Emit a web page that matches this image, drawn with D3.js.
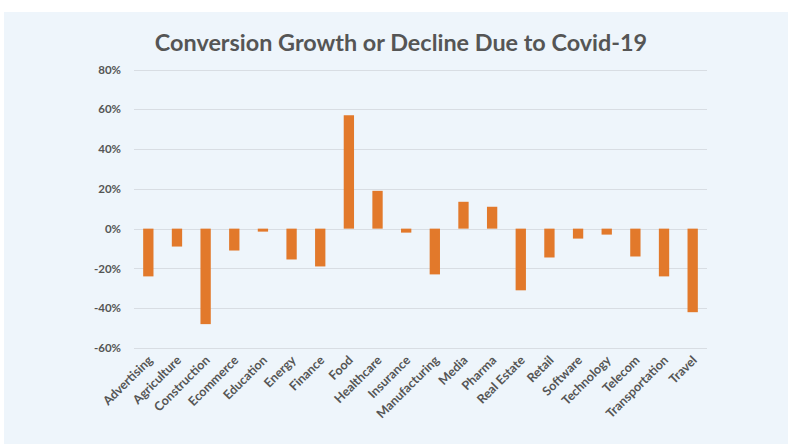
<!DOCTYPE html>
<html>
<head>
<meta charset="utf-8">
<script src="https://cdn.jsdelivr.net/npm/d3@7"></script>
<style>
  html, body { margin: 0; padding: 0; background: #ffffff; }
  svg { display: block; }
  text { font-family: Lato, "Open Sans", sans-serif; }
</style>
</head>
<body>
<div id="chart"></div>
<script>
// industries along the x axis
const industries = [
    'Advertising', 'Agriculture', 'Construction', 'Ecommerce', 'Education',
    'Energy', 'Finance', 'Food', 'Healthcare', 'Insurance',
    'Manufacturing', 'Media', 'Pharma', 'Real Estate', 'Retail',
    'Software', 'Technology', 'Telecom', 'Transportation', 'Travel'
];
// conversion change in %
const conversionChange = [
    -24, -9, -48, -11, -1.5,
    -15.5, -19, 57, 19, -2,
    -23, 13.5, 11, -31, -14.5,
    -5, -3, -14, -24, -42
];
const yTicks = [-60, -40, -20, 0, 20, 40, 60, 80];

document.addEventListener("DOMContentLoaded", () => {
    const width = 788, height = 444;
    const margin = { top: 69.5, right: 81, bottom: 96, left: 134 };

    const data = industries.map((name, i) => ({ name: name, value: conversionChange[i] }));

    const svg = d3.select('#chart')
        .append('svg')
        .attr('width', width)
        .attr('height', height);

    // light blue panel
    svg.append('rect')
        .attr('x', 4)
        .attr('y', 12)
        .attr('width', width - 4)
        .attr('height', height - 12)
        .attr('fill', '#eef5fb');

    const xScale = d3.scaleBand()
        .domain(industries)
        .range([margin.left, width - margin.right])
        .paddingInner(0.64)
        .paddingOuter(0.32);

    const yScale = d3.scaleLinear()
        .domain([-60, 80])
        .range([height - margin.bottom, margin.top]);

    // gridlines
    svg.append('g')
        .selectAll('line')
        .data(yTicks)
        .enter()
        .append('line')
        .attr('x1', margin.left)
        .attr('x2', width - margin.right)
        .attr('y1', d => Math.round(yScale(d)) + 0.5)
        .attr('y2', d => Math.round(yScale(d)) + 0.5)
        .attr('stroke', '#d8dde3')
        .attr('stroke-width', 1);

    // y labels
    const yAxis = svg.append('g')
        .attr('transform', `translate(${margin.left - 13},0)`)
        .call(d3.axisLeft(yScale).tickValues(yTicks).tickSize(0).tickFormat(d => d + '%'));
    yAxis.select('.domain').remove();
    yAxis.selectAll('text')
        .attr('x', 0)
        .attr('fill', '#555555')
        .style('font-size', '11.5px')
        .style('font-weight', 'bold')
        .style('font-family', 'Lato, sans-serif');

    // bars
    svg.append('g')
        .selectAll('rect')
        .data(data)
        .enter()
        .append('rect')
        .attr('x', d => xScale(d.name))
        .attr('width', xScale.bandwidth())
        .attr('y', d => yScale(Math.max(0, d.value)))
        .attr('height', d => Math.abs(yScale(d.value) - yScale(0)))
        .attr('fill', '#e2792b');

    // x labels, rotated
    svg.append('g')
        .selectAll('text')
        .data(industries)
        .enter()
        .append('text')
        .attr('transform', d => `translate(${xScale(d) + xScale.bandwidth() / 2 + 5},${height - margin.bottom + 13}) rotate(-45)`)
        .attr('text-anchor', 'end')
        .attr('fill', '#555555')
        .style('font-size', '12.5px')
        .style('font-weight', 'bold')
        .text(d => d);

    // title
    svg.append('text')
        .attr('x', 401)
        .attr('y', 51)
        .attr('text-anchor', 'middle')
        .attr('fill', '#555555')
        .style('font-size', '23.4px')
        .style('font-weight', 'bold')
        .text('Conversion Growth or Decline Due to Covid-19');
});
</script>
</body>
</html>
